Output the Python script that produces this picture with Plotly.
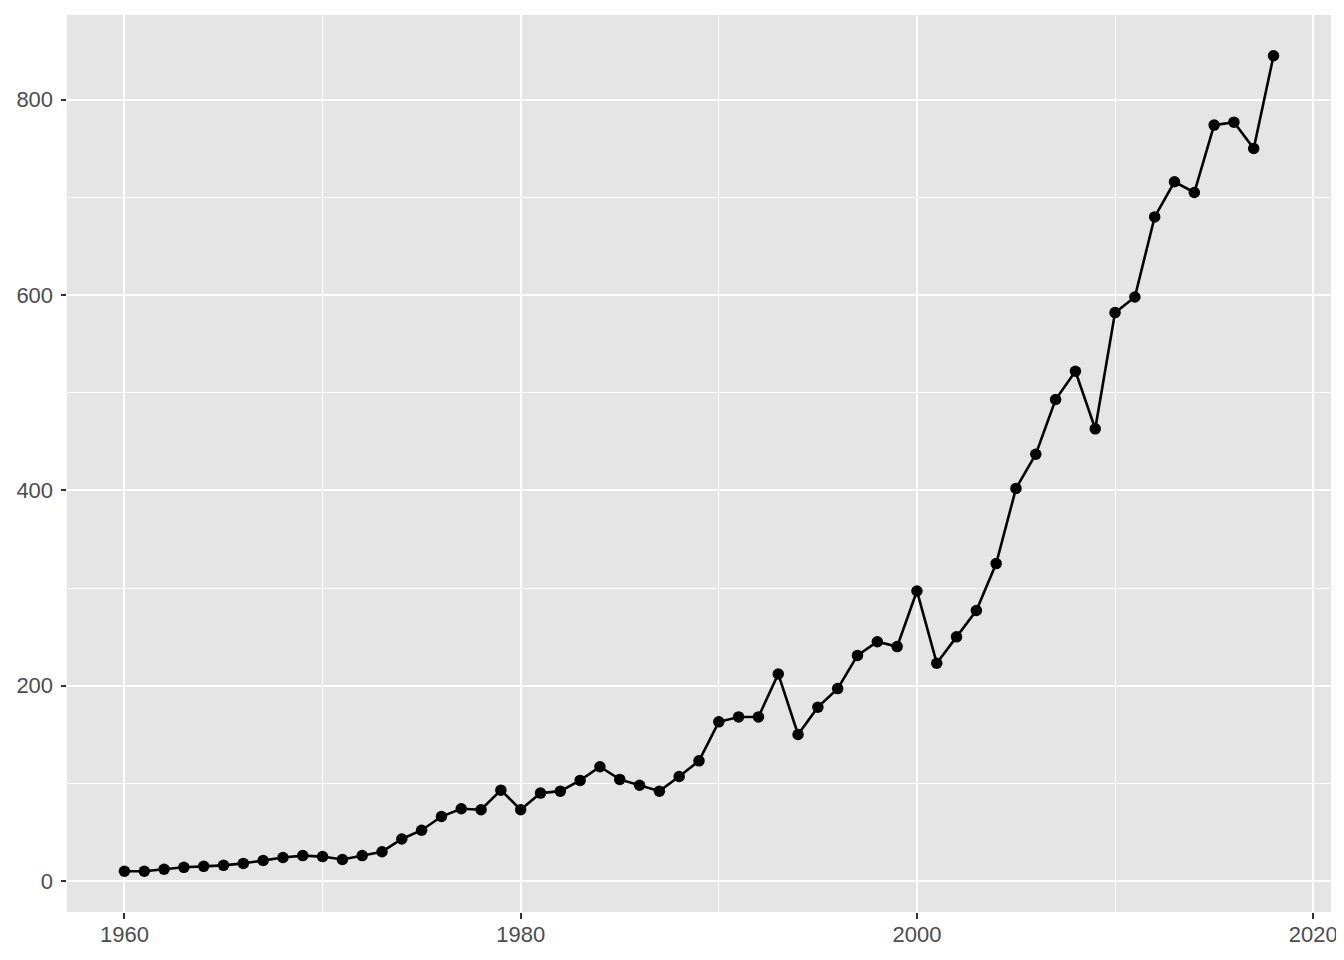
import plotly.graph_objects as go

years = list(range(1960, 2019))
values = [10, 10, 12, 14, 15, 16, 18, 21, 24, 26,
          25, 22, 26, 30, 43, 52, 66, 74, 73, 93,
          73, 90, 92, 103, 117, 104, 98, 92, 107, 123,
          163, 168, 168, 212, 150, 178, 197, 231, 245, 240,
          297, 223, 250, 277, 325, 402, 437, 493, 522, 463,
          582, 598, 680, 716, 705, 774, 777, 750, 845]

x_ticks = [1960, 1980, 2000, 2020]
y_ticks = [0, 200, 400, 600, 800]

fig = go.Figure()
fig.add_trace(go.Scatter(
    x=years, y=values,
    mode="lines+markers",
    line=dict(color="black", width=2.6),
    marker=dict(color="black", size=11.5),
    showlegend=False,
))

# ggplot-like axes: 5% expansion on both sides
x_pad = (max(years) - min(years)) * 0.05
y_pad = (max(values) - min(values)) * 0.05

axis_common = dict(
    showline=False,
    zeroline=False,
    gridcolor="white",
    gridwidth=2.3,
    ticks="outside",
    ticklen=5.5,
    tickwidth=2,
    tickcolor="#333333",
    tickfont=dict(family="Liberation Sans, Arial, sans-serif", size=22, color="#4d4d4d"),
)

# page body has an 8px margin, so margins are shifted to compensate
fig.update_layout(
    width=1344, height=960,
    paper_bgcolor="white",
    plot_bgcolor="#e5e5e5",
    margin=dict(l=59, r=21, t=7, b=56),
    xaxis=dict(
        range=[min(years) - x_pad, max(years) + x_pad],
        tickvals=x_ticks,
        ticklabelstandoff=-3,
        minor=dict(dtick=10, tick0=1970, showgrid=True, gridcolor="white", gridwidth=1.1, ticks=""),
        **axis_common,
    ),
    yaxis=dict(
        range=[min(values) - y_pad, max(values) + y_pad],
        tickvals=y_ticks,
        ticklabelstandoff=3,
        minor=dict(dtick=100, tick0=100, showgrid=True, gridcolor="white", gridwidth=1.1, ticks=""),
        **axis_common,
    ),
)

fig.write_html("out.html")
